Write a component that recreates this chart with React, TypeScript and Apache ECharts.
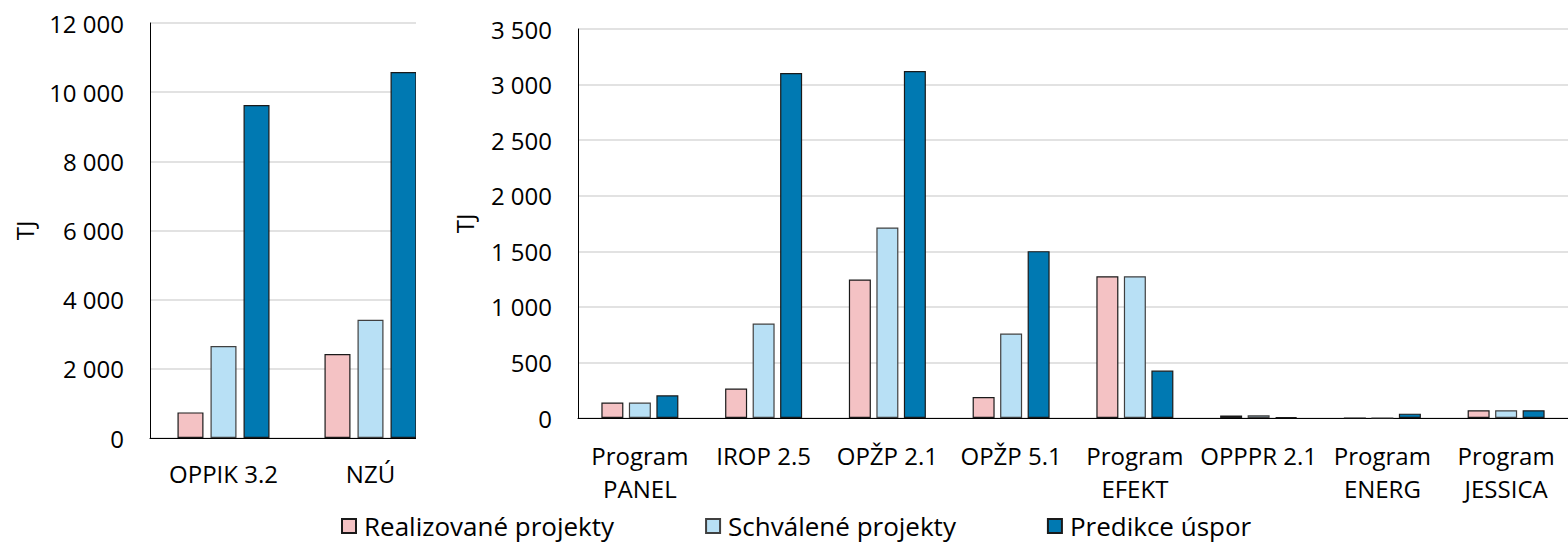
import React, { useEffect, useRef } from "react";
import * as echarts from "echarts";

const seriesNames = ["Realizované projekty", "Schválené projekty", "Predikce úspor"];
const seriesColors = ["#F4C2C4", "#B8E0F5", "#0079B2"];
const borderColors = ["#1a1a1a", "#404040", "#1a1a1a"];

const categoriesLeft = ["OPPIK 3.2", "NZÚ"];
const realizovaneLeft = [740, 2430];
const schvaleneLeft = [2660, 3420];
const predikceLeft = [9630, 10580];

const categoriesRight = [
  "Program\nPANEL",
  "IROP 2.5",
  "OPŽP 2.1",
  "OPŽP 5.1",
  "Program\nEFEKT",
  "OPPPR 2.1",
  "Program\nENERG",
  "Program\nJESSICA",
];
const realizovaneRight = [139, 265, 1246, 189, 1276, 22, 0, 70];
const schvaleneRight = [139, 850, 1714, 760, 1276, 25, 0, 70];
const predikceRight = [204, 3104, 3122, 1501, 427, 8, 39, 70];

const leftAxisMax = 12000;
const leftAxisInterval = 2000;
const rightAxisMax = 3500;
const rightAxisInterval = 500;
const unitLabel = "TJ";

const FONT = "Open Sans";

const fmt = (v: number) => String(v).replace(/\B(?=(\d{3})+(?!\d))/g, " ");

export default function App() {
  const ref = useRef<HTMLDivElement>(null);
  useEffect(() => {
    if (!ref.current) return;
    const chart = echarts.init(ref.current, null, { renderer: "svg" });
    const leftData = [realizovaneLeft, schvaleneLeft, predikceLeft];
    const rightData = [realizovaneRight, schvaleneRight, predikceRight];
    const mkSeries = (data: number[], i: number, idx: number, barWidth: number, barGap: string) => ({
      type: "bar",
      name: seriesNames[i],
      xAxisIndex: idx,
      yAxisIndex: idx,
      data,
      barWidth,
      barGap,
      itemStyle: { color: seriesColors[i], borderColor: borderColors[i], borderWidth: 1.2 },
    });
    const yAxisCommon = {
      type: "value",
      nameLocation: "middle",
      nameTextStyle: { fontFamily: FONT, fontSize: 24, color: "#000" },
      axisLine: { show: true, lineStyle: { color: "#000", width: 1 } },
      axisTick: { show: false },
      splitLine: { lineStyle: { color: "#D9D9D9", width: 1.5 } },
      axisLabel: { fontFamily: FONT, fontSize: 24, color: "#000", margin: 26, formatter: fmt },
    };
    const xAxisCommon = {
      type: "category",
      axisLine: { lineStyle: { color: "#000", width: 1 } },
      axisTick: { show: false },
      axisLabel: { fontFamily: FONT, fontSize: 24, color: "#000", lineHeight: 33, interval: 0 },
    };
    chart.setOption({
      animation: false,
      backgroundColor: "#fff",
      grid: [
        { left: 150, top: 23, width: 294, height: 415 },
        { left: 578, top: 29, width: 994, height: 389 },
      ],
      xAxis: [
        { ...xAxisCommon, gridIndex: 0, data: categoriesLeft, axisLabel: { ...xAxisCommon.axisLabel, margin: 19 } },
        { ...xAxisCommon, gridIndex: 1, data: categoriesRight, axisLabel: { ...xAxisCommon.axisLabel, margin: 21 } },
      ],
      yAxis: [
        { ...yAxisCommon, gridIndex: 0, min: 0, max: leftAxisMax, interval: leftAxisInterval, name: unitLabel, nameGap: 114 },
        { ...yAxisCommon, gridIndex: 1, min: 0, max: rightAxisMax, interval: rightAxisInterval, name: unitLabel, nameGap: 102 },
      ],
      legend: {
        data: seriesNames,
        left: 336,
        top: 508,
        itemWidth: 14,
        itemHeight: 14,
        itemGap: 91,
        icon: "rect",
        textStyle: { fontFamily: FONT, fontSize: 26, color: "#000", padding: [0, 0, 0, 3] },
      },
      graphic: [
        {
          type: "rect",
          z: 100,
          shape: { x: 416, y: 0, width: 40, height: 446 },
          style: { fill: "#fff" },
        },
      ],
      series: [
        ...leftData.map((d, i) => mkSeries(d, i, 0, 26, "27%")),
        ...rightData.map((d, i) => mkSeries(d, i, 1, 22, "25%")),
      ],
    });
    return () => chart.dispose();
  }, []);
  return (
    <div style={{ position: "absolute", left: 0, top: 0, width: 1568, height: 544, background: "#fff" }}>
      <div ref={ref} style={{ width: 1568, height: 544 }} />
    </div>
  );
}
